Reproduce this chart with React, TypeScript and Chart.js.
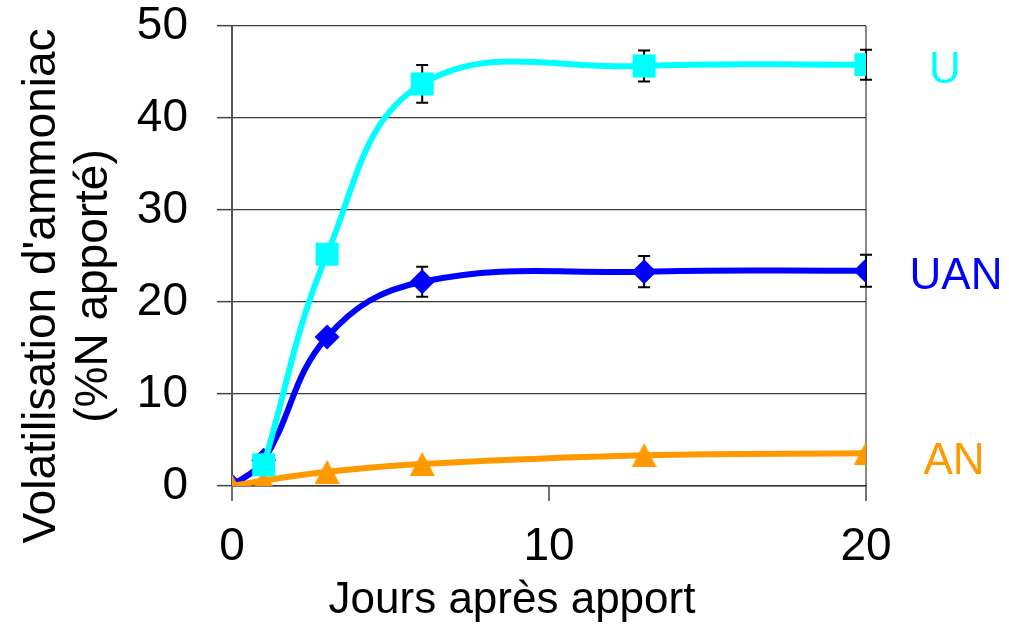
import React, { useEffect, useRef } from 'react';
import { Chart, registerables } from 'chart.js';

Chart.register(...registerables);

// ---- data ----
const days = [0, 1, 3, 6, 13, 20];
const uDays = [1, 3, 6, 13, 20];
const uValues = [2.3, 25.2, 43.7, 45.65, 45.8];
const uErrors = [0, 0, 2.05, 1.68, 1.63];
const uanValues = [0, 2.8, 16.2, 22.2, 23.3, 23.4];
const uanErrors = [0, 0, 0, 1.63, 1.7, 1.74];
const anValues = [0, 0.6, 1.55, 2.4, 3.35, 3.55];
const xTickValues = [0, 10, 20];
const yTickValues = [0, 10, 20, 30, 40, 50];
const seriesNames = ['U', 'UAN', 'AN'];
const xTitle = 'Jours après apport';
const yTitle = ["Volatilisation d'ammoniac", '(%N apporté)'];

const COLORS = { U: '#00FFFF', UAN: '#0000FF', AN: '#FF9900' };
const FONT = '"Liberation Sans", Arial, sans-serif';

function makeTriangle(color: string) {
  const c = document.createElement('canvas');
  c.width = 25;
  c.height = 24;
  const g = c.getContext('2d')!;
  g.fillStyle = color;
  g.beginPath();
  g.moveTo(12.5, 0);
  g.lineTo(25, 24);
  g.lineTo(0, 24);
  g.closePath();
  g.fill();
  return c;
}

const errorBarPlugin = {
  id: 'errorBars',
  beforeDatasetsDraw(chart: any) {
    const { ctx } = chart;
    const xs = chart.scales.x;
    const ys = chart.scales.y;
    ctx.save();
    ctx.strokeStyle = '#000';
    ctx.lineWidth = 2;
    chart.data.datasets.forEach((ds: any) => {
      const errs = ds.errors;
      if (!errs) return;
      ds.data.forEach((p: any, i: number) => {
        const e = errs[i];
        if (!e) return;
        const px = xs.getPixelForValue(p.x);
        const top = ys.getPixelForValue(p.y + e);
        const bot = ys.getPixelForValue(p.y - e);
        ctx.beginPath();
        ctx.moveTo(px, top);
        ctx.lineTo(px, bot);
        ctx.moveTo(px - 6, top);
        ctx.lineTo(px + 6, top);
        ctx.moveTo(px - 6, bot);
        ctx.lineTo(px + 6, bot);
        ctx.stroke();
      });
    });
    ctx.restore();
  },
};

const textPlugin = {
  id: 'texts',
  afterDraw(chart: any) {
    const { ctx, chartArea } = chart;
    const ys = chart.scales.y;
    ctx.save();
    ctx.fillStyle = '#000';
    // y title
    ctx.font = `46px ${FONT}`;
    ctx.textAlign = 'center';
    ctx.textBaseline = 'alphabetic';
    const yMid = (chartArea.top + chartArea.bottom) / 2 + 30;
    const baselines = [55, 107];
    yTitle.forEach((t, i) => {
      ctx.save();
      ctx.translate(baselines[i], yMid);
      ctx.rotate(-Math.PI / 2);
      ctx.fillText(t, 0, 0);
      ctx.restore();
    });
    // x title
    ctx.font = `44px ${FONT}`;
    ctx.fillText(xTitle, (chartArea.left + chartArea.right) / 2 - 37, 613);
    // series labels
    ctx.textBaseline = 'middle';
    const dxs = [79, 88, 90];
    const dys = [6, 9, 6];
    chart.data.datasets.forEach((ds: any, i: number) => {
      const last = ds.data[ds.data.length - 1];
      ctx.fillStyle = ds.borderColor;
      ctx.fillText(ds.label, chartArea.right + dxs[i], ys.getPixelForValue(last.y) + dys[i]);
    });
    ctx.restore();
  },
};

export default function App() {
  const ref = useRef<HTMLCanvasElement>(null);
  useEffect(() => {
    document.body.style.margin = '0';
    const tri = makeTriangle(COLORS.AN);
    const chart = new Chart(ref.current!, {
      type: 'line',
      data: {
        datasets: [
          {
            label: seriesNames[0],
            data: uDays.map((x, i) => ({ x, y: uValues[i] })),
            errors: uErrors,
            borderColor: COLORS.U,
            backgroundColor: COLORS.U,
            borderWidth: 6,
            tension: 0.4,
            pointStyle: 'rect',
            pointRadius: 16.3,
            pointBorderWidth: 0,
          } as any,
          {
            label: seriesNames[2],
            data: days.map((x, i) => ({ x, y: anValues[i] })),
            borderColor: COLORS.AN,
            backgroundColor: COLORS.AN,
            borderWidth: 6,
            tension: 0.4,
            pointStyle: tri,
            pointRadius: 12,
            pointBorderWidth: 0,
          } as any,
          {
            label: seriesNames[1],
            data: days.map((x, i) => ({ x, y: uanValues[i] })),
            errors: uanErrors,
            borderColor: COLORS.UAN,
            backgroundColor: COLORS.UAN,
            borderWidth: 6,
            tension: 0.4,
            pointStyle: 'rectRot',
            pointRadius: 12.5,
            pointBorderWidth: 0,
          } as any,
        ],
      },
      options: {
        animation: false,
        responsive: true,
        maintainAspectRatio: false,
        layout: { padding: { left: 0, top: 26, right: 143, bottom: 0 } },
        plugins: { legend: { display: false }, tooltip: { enabled: false } },
        scales: {
          x: {
            type: 'linear',
            min: 0,
            max: 20,
            afterBuildTicks: (s: any) => {
              s.ticks = xTickValues.map((v) => ({ value: v }));
            },
            afterFit: (s: any) => {
              s.height = 140;
              s.paddingLeft = 0;
              s.paddingRight = 0;
              s.paddingTop = 0;
              s.paddingBottom = 0;
            },
            grid: {
              drawOnChartArea: true,
              color: (c: any) => (c.tick && c.tick.value === 20 ? '#888' : 'rgba(0,0,0,0)'),
              lineWidth: 2,
              tickColor: '#444',
              tickLength: 15,
              tickWidth: 1.5,
            },
            border: { display: true, color: '#333', width: 1.5 },
            ticks: {
              padding: 23,
              color: '#000',
              font: { family: FONT, size: 46, lineHeight: 1 },
              maxRotation: 0,
            },
          },
          y: {
            type: 'linear',
            min: 0,
            max: 50,
            afterBuildTicks: (s: any) => {
              s.ticks = yTickValues.map((v) => ({ value: v }));
            },
            afterFit: (s: any) => {
              s.width = 232;
              s.paddingLeft = 0;
              s.paddingRight = 0;
              s.paddingTop = 0;
              s.paddingBottom = 0;
            },
            grid: {
              color: '#3a3a3a',
              lineWidth: 1.3,
              tickColor: '#444',
              tickLength: 15,
              tickWidth: 1.5,
            },
            border: { display: true, color: '#555', width: 2 },
            ticks: {
              padding: 29,
              color: '#000',
              font: { family: FONT, size: 46, lineHeight: 1 },
            },
          },
        },
      },
      plugins: [errorBarPlugin, textPlugin],
    });
    return () => chart.destroy();
  }, []);
  return (
    <div style={{ position: 'relative', width: 1009, height: 626 }}>
      <canvas ref={ref} />
    </div>
  );
}
